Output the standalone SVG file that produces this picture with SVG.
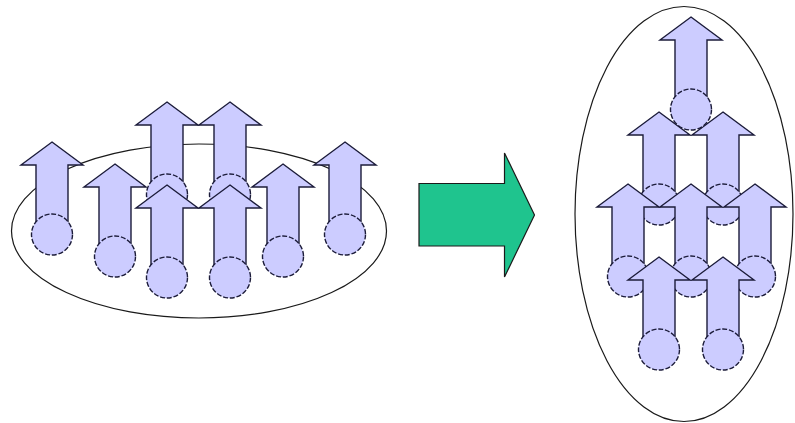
<svg xmlns="http://www.w3.org/2000/svg" width="795" height="423" viewBox="0 0 795 423">
  <style>
    .ring { fill: #ffffff; stroke: #1a1a1a; stroke-width: 1.2; }
    .shaft { fill: #ccccff; stroke: #1c1c3a; stroke-width: 1.4; stroke-linejoin: miter; }
    .base { fill: #ccccff; stroke: #1c1c3a; stroke-width: 1.4; stroke-dasharray: 5 1.8; }
    .move { fill: #1fc48e; stroke: #1a1a1a; stroke-width: 1.2; }
  </style>
  <defs>
    <!-- one upward arrow with its dashed base disc; origin at the arrow tip -->
    <g id="unit">
      <path class="shaft" d="M0,0 L31,23 L16,23 L16,92 L-16,92 L-16,23 L-31,23 Z"/>
      <circle class="base" cx="0" cy="92.5" r="20.5"/>
    </g>
  </defs>

  <!-- scattered group -->
  <g id="group-left">
    <ellipse class="ring" cx="199" cy="231" rx="187.5" ry="87"/>
    <use id="a3" href="#unit" x="167" y="102"/>
    <use id="a4" href="#unit" x="230" y="102"/>
    <use id="a1" href="#unit" x="52" y="142"/>
    <use id="a2" href="#unit" x="115" y="164"/>
    <use id="a7" href="#unit" x="283" y="164"/>
    <use id="a8" href="#unit" x="345" y="142"/>
    <use id="a5" href="#unit" x="167" y="185"/>
    <use id="a6" href="#unit" x="230" y="185"/>
  </g>

  <!-- transition arrow -->
  <g id="connectors">
    <path class="move" d="M419,183.5 L504.5,183.5 L504.5,153 L534.5,215 L504.5,277 L504.5,246 L419,246 Z"/>
  </g>

  <!-- stacked group; the top unit sits in front of the second row -->
  <g id="group-right">
    <ellipse class="ring" cx="684" cy="214" rx="109" ry="207.5"/>
    <use id="b2" href="#unit" x="659" y="112"/>
    <use id="b3" href="#unit" x="723" y="112"/>
    <use id="b4" href="#unit" x="628" y="184"/>
    <use id="b5" href="#unit" x="691" y="184"/>
    <use id="b6" href="#unit" x="755" y="184"/>
    <use id="b7" href="#unit" x="659" y="257"/>
    <use id="b8" href="#unit" x="723" y="257"/>
    <use id="b1" href="#unit" x="691" y="17"/>
  </g>
</svg>
